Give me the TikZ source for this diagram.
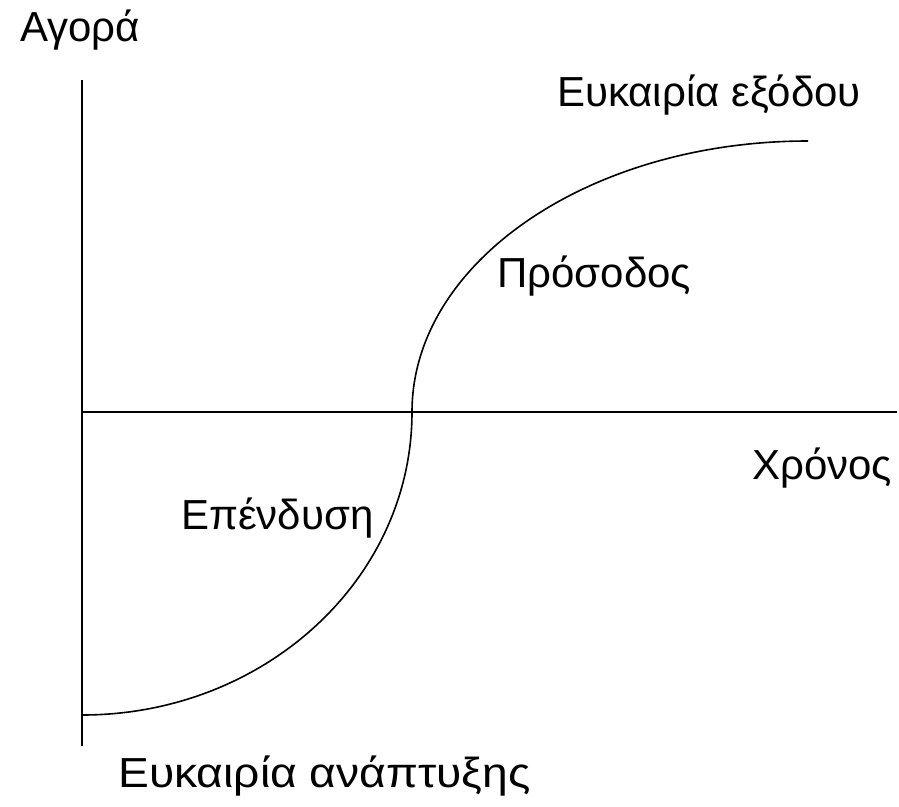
\documentclass[tikz,border=0pt]{standalone}
\usepackage{fontspec}
\setmainfont{Liberation Sans}
\begin{document}
\begin{tikzpicture}[x=1pt,y=-1pt,
  lbl/.style={anchor=base west,inner sep=0pt,font=\fontsize{42}{50}\selectfont},
  axis/.style={line width=2pt},
  curve/.style={line width=1.6pt}]
\useasboundingbox (0,0) rectangle (899,806);
\coordinate (ytop) at (82,80);
\coordinate (ybot) at (82,746);
\coordinate (xl) at (82,412);
\coordinate (xr) at (897,412);
\coordinate (cs) at (82,715);
\coordinate (cm) at (412,412);
\coordinate (ce) at (808,141);
\draw[axis] (ytop) -- (ybot);
\draw[axis] (xl) -- (xr);
\draw[curve] (cs) arc[start angle=90,end angle=0,x radius=330,y radius=303]
  arc[start angle=180,end angle=270,x radius=396,y radius=271];
\node[lbl] (agora) at (20,41) {Αγορά};
\node[lbl] (exodos) at (557,106) {Ευκαιρία εξόδου};
\node[lbl] (prosodos) at (497,287) {Πρόσοδος};
\node[lbl] (xronos) at (752,479) {Χρόνος};
\node[lbl] (ependysi) at (181,529) {Επένδυση};
\node[lbl] (anaptyxi) at (118,787) {\addfontfeatures{FakeStretch=1.1}Ευκαιρία ανάπτυξης};
\end{tikzpicture}
\end{document}
